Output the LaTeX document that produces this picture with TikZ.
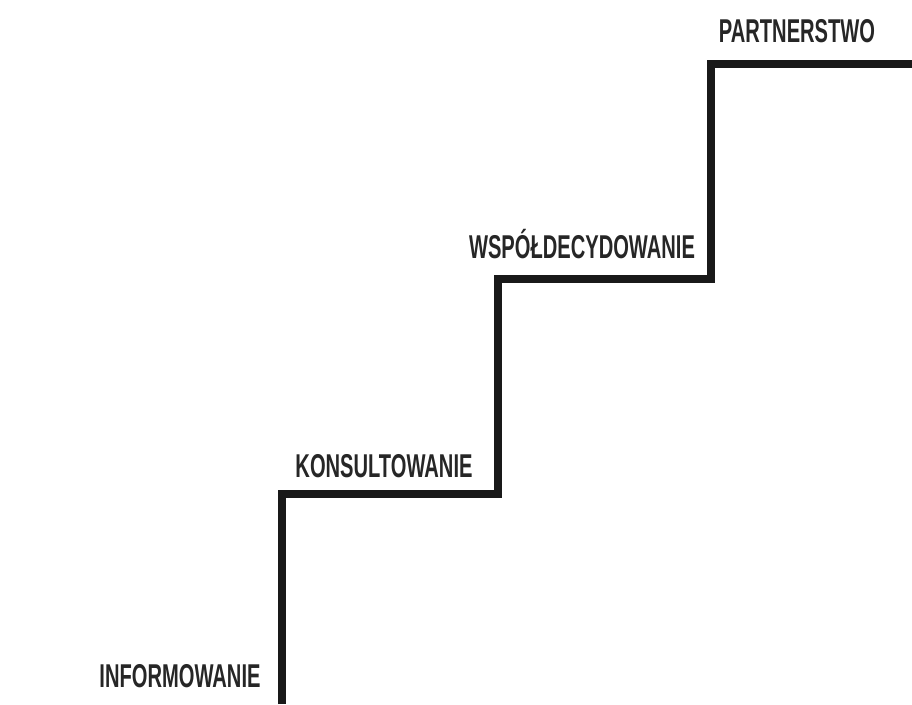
\documentclass[tikz,border=0pt]{standalone}
\usepackage{fontspec}
\setmainfont{Liberation Sans}[FakeStretch=0.61]
\begin{document}
\begin{tikzpicture}[x=1pt,y=-1pt,
    stairline/.style={line width=7.5pt,black!90},
    steplabel/.style={inner sep=0pt,anchor=base,font=\fontsize{33}{33}\selectfont\bfseries,text=black!85}]
        \useasboundingbox (0,0) rectangle (912,704);

        % Stair corners
        \coordinate (S0) at (282,704);
        \coordinate (S1) at (282,494);
        \coordinate (S2) at (498,494);
        \coordinate (S3) at (498,279);
        \coordinate (S4) at (711,279);
        \coordinate (S5) at (711,64);
        \coordinate (S6) at (912,64);
        \draw[stairline,line join=miter] (S0) -- (S1) -- (S2) -- (S3) -- (S4) -- (S5) -- (S6);

        % Levels
        \node[steplabel] (inf) at (180,687) {INFORMOWANIE};
        \node[steplabel] (kon) at (384,477) {KONSULTOWANIE};
        \node[steplabel] (wsp) at (582,258) {WSPÓŁDECYDOWANIE};
        \node[steplabel] (par) at (797,42) {PARTNERSTWO};
\end{tikzpicture}
\end{document}
